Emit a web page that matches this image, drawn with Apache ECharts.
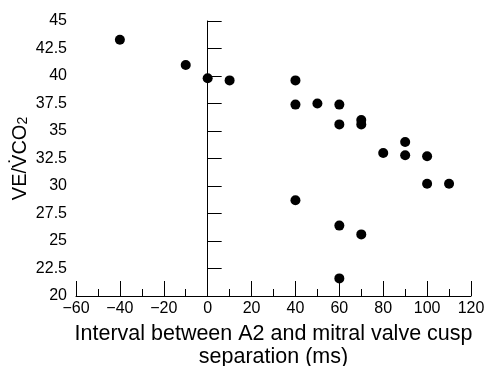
<!DOCTYPE html>
<html>
<head>
<meta charset="utf-8">
<script src="https://cdn.jsdelivr.net/npm/echarts@6/dist/echarts.min.js"></script>
<style>
  html, body { margin: 0; padding: 0; background: #fff; }
  #chart { width: 487px; height: 366px; }
</style>
</head>
<body>
<div id="chart"></div>
<script>
// interval between A2 and mitral valve cusp separation (ms)
const intervalMs = [-40, -10, 0, 10, 40, 40, 50, 60, 60, 70, 70, 90, 80, 90, 100, 100, 110, 40, 60, 70, 60]
// VE/VCO2 slope
const veVco2 = [43.3, 41, 39.8, 39.6, 39.6, 37.4, 37.5, 37.4, 35.6, 36, 35.6, 34, 33, 32.8, 32.7, 30.2, 30.2, 28.7, 26.4, 25.6, 21.6]

const xTicks = { min: -60, max: 120, step: 20 }
const yTicks = { min: 20, max: 45, step: 2.5 }

const font = 'Liberation Sans, Arial, sans-serif'
const points = intervalMs.map((x, i) => [x, veVco2[i]])

const chart = echarts.init(document.getElementById('chart'))

chart.setOption({
  animation: false,
  grid: { left: 76, right: 16, top: 21, bottom: 70, outerBoundsMode: 'none', containLabel: false },
  xAxis: {
    type: 'value',
    min: xTicks.min,
    max: xTicks.max,
    interval: xTicks.step,
    name: 'Interval between A2 and mitral valve cusp\nseparation (ms)',
    nameLocation: 'middle',
    nameGap: 27,
    nameMoveOverlap: false,
    nameTextStyle: { color: '#000', fontFamily: font, fontSize: 21.5, lineHeight: 23 },
    axisLine: { lineStyle: { color: '#000', width: 1 } },
    axisTick: { inside: true, length: 15, lineStyle: { color: '#000' } },
    minorTick: { show: true, splitNumber: 2, length: 7, lineStyle: { color: '#000' } },
    axisLabel: {
      color: '#000',
      fontFamily: font,
      fontSize: 16,
      margin: 5,
      formatter: (v) => v < 0 ? '\u2212' + Math.abs(v) : String(v)
    },
    splitLine: { show: false }
  },
  yAxis: {
    type: 'value',
    min: yTicks.min,
    max: yTicks.max,
    interval: yTicks.step,
    name: '{a|VE/V\u0307CO}{b|2}',
    nameLocation: 'middle',
    nameRotate: 90,
    nameGap: 46,
    nameMoveOverlap: false,
    nameTextStyle: {
      color: '#000',
      fontFamily: font,
      fontSize: 20,
      rich: {
        a: { color: '#000', fontFamily: font, fontSize: 20 },
        b: { color: '#000', fontFamily: font, fontSize: 14, verticalAlign: 'bottom' }
      }
    },
    axisLine: { show: true, lineStyle: { color: '#000', width: 1 } },
    axisTick: { show: true, inside: true, length: 14, lineStyle: { color: '#000' } },
    axisLabel: { color: '#000', fontFamily: font, fontSize: 16, margin: 9 },
    splitLine: { show: false }
  },
  series: [{
    type: 'scatter',
    data: points,
    symbol: 'circle',
    symbolSize: 10,
    itemStyle: { color: '#000', opacity: 1 },
    markLine: {
      silent: true,
      symbol: ['none', 'none'],
      label: { show: false },
      lineStyle: { color: '#000', width: 1, type: 'solid' },
      data: [{ xAxis: 0 }]
    }
  }]
})
</script>
</body>
</html>
